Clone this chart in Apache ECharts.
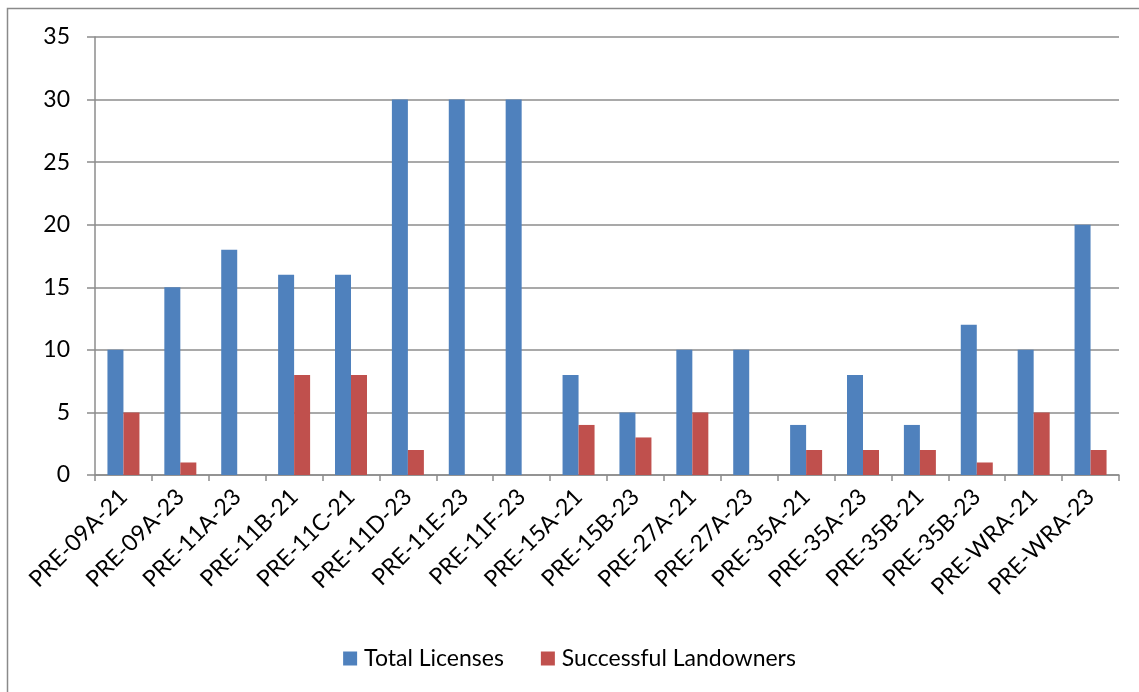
<!DOCTYPE html>
<html>
<head>
<meta charset="utf-8">
<script src="https://cdn.jsdelivr.net/npm/echarts@6/dist/echarts.min.js"></script>
<style>
  html, body { margin: 0; padding: 0; background: #fff; }
  #chart { width: 1139px; height: 692px; }
</style>
</head>
<body>
<div id="chart"></div>
<script>
// Licence areas along the category axis
const categories = [
  'PRE-09A-21', 'PRE-09A-23', 'PRE-11A-23', 'PRE-11B-21', 'PRE-11C-21', 'PRE-11D-23',
  'PRE-11E-23', 'PRE-11F-23', 'PRE-15A-21', 'PRE-15B-23', 'PRE-27A-21', 'PRE-27A-23',
  'PRE-35A-21', 'PRE-35A-23', 'PRE-35B-21', 'PRE-35B-23', 'PRE-WRA-21', 'PRE-WRA-23'
];
const totalLicenses = [10, 15, 18, 16, 16, 30, 30, 30, 8, 5, 10, 10, 4, 8, 4, 12, 10, 20];
const successfulLandowners = [5, 1, 0, 8, 8, 2, 0, 0, 4, 3, 5, 0, 2, 2, 2, 1, 5, 2];
const seriesNames = ['Total Licenses', 'Successful Landowners'];

const FONT = 'Lato, "Open Sans", sans-serif';
const FONT_SIZE = 23;
const GRID_GREY = '#8c8c8c';

const chart = echarts.init(document.getElementById('chart'), null, { renderer: 'canvas' });

chart.setOption({
  animation: false,
  backgroundColor: '#ffffff',
  textStyle: { fontFamily: FONT },
  graphic: [
    // outer chart frame (left and top edges visible)
    {
      type: 'rect',
      shape: { x: 7.5, y: 8.5, width: 1200, height: 800 },
      style: { fill: 'none', stroke: '#8a8a8a', lineWidth: 1.5 },
      silent: true
    }
  ],
  grid: { left: 95, right: 20, top: 37, bottom: 217, containLabel: false },
  legend: {
    data: seriesNames,
    top: 642,
    left: 'center',
    itemWidth: 14,
    itemHeight: 14,
    itemGap: 37,
    icon: 'rect',
    textStyle: { fontSize: FONT_SIZE, color: '#000', fontFamily: FONT, padding: [0, 0, 0, 2] }
  },
  xAxis: {
    type: 'category',
    data: categories,
    axisLine: { show: true, lineStyle: { color: GRID_GREY, width: 1.5 } },
    axisTick: { show: true, length: 6, alignWithLabel: false, lineStyle: { color: GRID_GREY, width: 1.5 } },
    axisLabel: {
      interval: 0,
      rotate: 45,
      fontSize: FONT_SIZE,
      color: '#000',
      fontFamily: FONT,
      margin: 18
    }
  },
  yAxis: {
    type: 'value',
    min: 0,
    max: 35,
    interval: 5,
    axisLine: { show: true, lineStyle: { color: GRID_GREY, width: 1.5 } },
    axisTick: { show: true, length: 8, lineStyle: { color: GRID_GREY, width: 1.5 } },
    axisLabel: { fontSize: FONT_SIZE, color: '#000', fontFamily: FONT, margin: 25 },
    splitLine: { show: true, lineStyle: { color: GRID_GREY, width: 1.5 } }
  },
  series: [
    {
      name: seriesNames[0],
      type: 'bar',
      data: totalLicenses,
      barWidth: 16,
      barGap: '0%',
      itemStyle: { color: '#4F81BD' }
    },
    {
      name: seriesNames[1],
      type: 'bar',
      data: successfulLandowners,
      barWidth: 16,
      barGap: '0%',
      itemStyle: { color: '#C0504D' }
    }
  ]
});
</script>
</body>
</html>
